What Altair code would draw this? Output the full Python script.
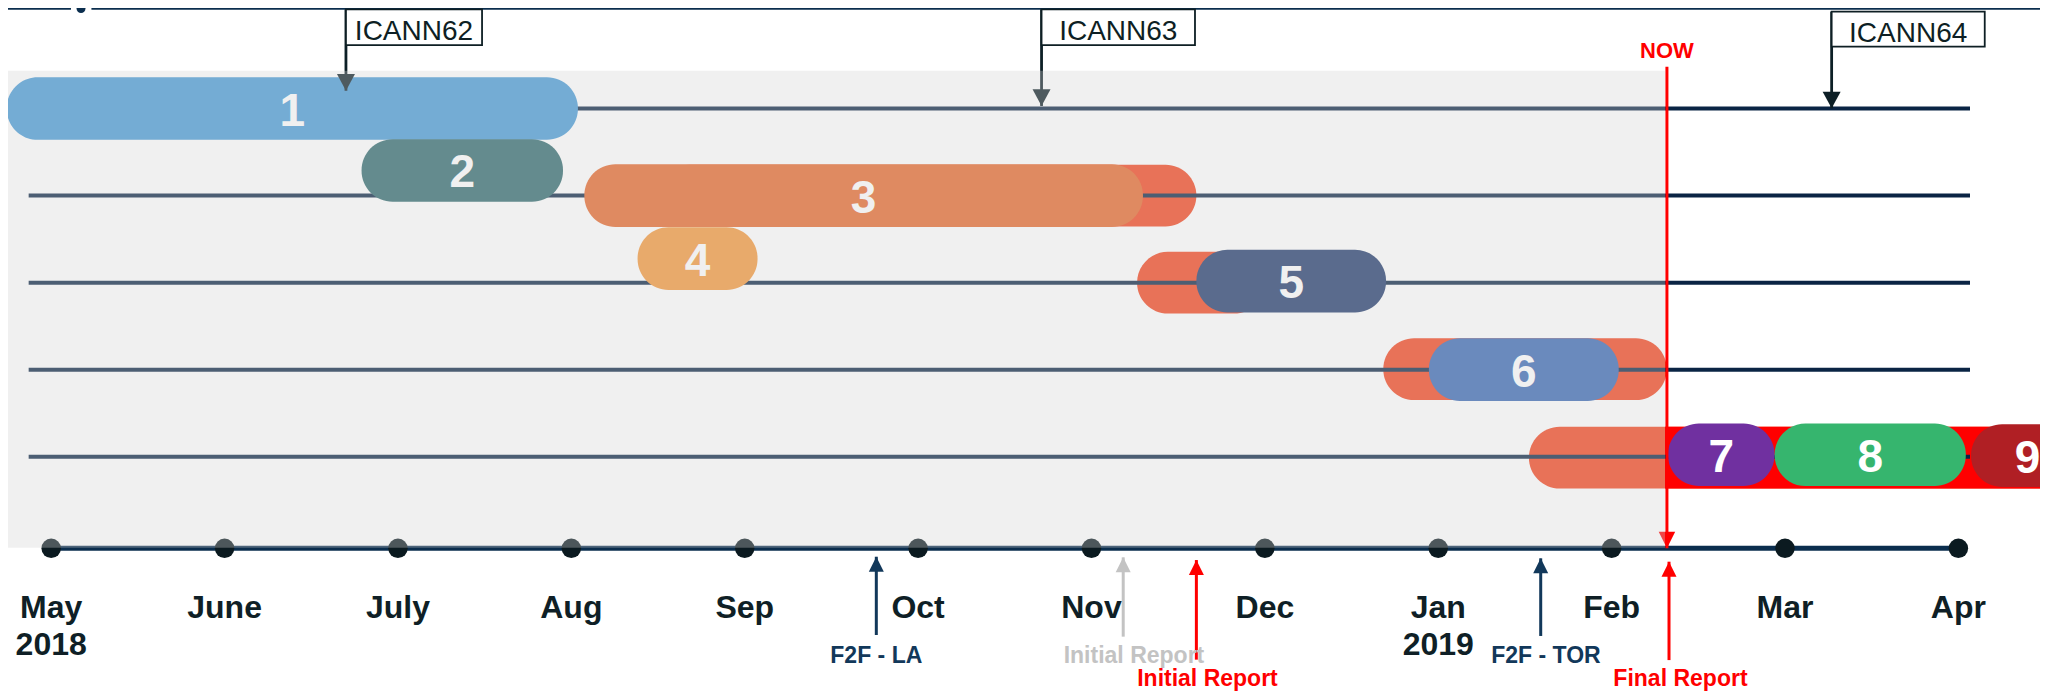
import altair as alt
import pandas as pd

# ---------------- data (x in months since May 2018, y in timeline rows) ----------------
months = list(range(12))
month_names = ["May\n2018", "June", "July", "Aug", "Sep", "Oct", "Nov", "Dec",
               "Jan\n2019", "Feb", "Mar", "Apr"]

bar_labels = ["1", "2", "3", "4", "5", "6", "7", "8", "9"]
bar_start = [-0.257, 1.790, 3.075, 3.382, 6.605, 7.946, 9.325, 9.940, 11.073]
bar_end = [3.038, 2.952, 6.297, 4.074, 7.699, 9.041, 9.940, 11.043, 11.725]
bar_row = [1.0, 1.712, 2.0, 2.724, 2.983, 4.0, 4.977, 4.977, 4.987]
bar_colors = ["#4599d5", "#2d686c", "#e66629", "#f49638", "#1e386b",
              "#3666b3", "#7030a0", "#36b56e", "#b01f24"]

ext_start = [3.5, 6.263, 7.683, 8.523]
ext_end = [6.605, 7.0, 9.318, 12.5]
ext_row = [2.0, 3.0, 3.994, 5.01]

late_start = [9.308]
late_end = [12.5]
late_row = [5.01]

row_ids = [1, 2, 3, 4, 5]
row_line_start = [-0.130, -0.130, -0.130, -0.130, -0.130]
row_line_end = [11.067, 11.067, 11.067, 11.067, 11.067]

icann_names = ["ICANN62", "ICANN63", "ICANN64"]
icann_month = [1.700, 5.712, 10.269]
icann_box_end = [2.485, 6.597, 11.152]
icann_box_top = [-0.139, -0.139, -0.112]
icann_box_bottom = [0.271, 0.271, 0.290]
icann_tip = [0.796, 0.971, 0.998]

axis_row = 6.051
label_row = 6.855

now_month = [9.319]
now_top = [0.520]
now_text_row = [0.4235]
shade_end = [9.308]
shade_start = [-0.257]
shade_top = [0.566]
shade_bottom = [6.044]

ann_text = ["F2F - LA", "Initial Report", "Initial Report", "F2F - TOR", "Final Report"]
ann_arrow_x = [4.759, 6.183, 6.605, 8.591, 9.331]
ann_tip = [6.148, 6.155, 6.186, 6.166, 6.205]
ann_tail = [7.047, 7.066, 7.330, 7.058, 7.335]
ann_text_x = [4.759, 6.245, 6.669, 8.621, 9.397]
ann_text_y = [7.365, 7.368, 7.627, 7.372, 7.627]
ann_color = ["#12385a", "#c3c3c3", "#ff0000", "#12385a", "#ff0000"]

top_seg_start = [-0.4, 0.232]
top_seg_end = [0.114, 12.5]
top_row = -0.1485
top_dot = [0.172]

# ---------------- scales ----------------
W, H = 2032, 683
PX_PER_MONTH = 173.38
MONTH0_PX = 43.2
PX_PER_ROW = 87.07
ROW0_PX = 13.43
X0 = -MONTH0_PX / PX_PER_MONTH
X1 = (W - MONTH0_PX) / PX_PER_MONTH
Y0 = -ROW0_PX / PX_PER_ROW
Y1 = (H - ROW0_PX) / PX_PER_ROW

XS = alt.Scale(domain=[X0, X1], nice=False, zero=False)
YS = alt.Scale(domain=[Y0, Y1], nice=False, zero=False, reverse=True)


def X(f):
    return alt.X(f, type="quantitative", scale=XS, axis=None)


def Y(f):
    return alt.Y(f, type="quantitative", scale=YS, axis=None)


FONT = "Liberation Sans"
HALF = 0.36

bars = pd.DataFrame(dict(label=bar_labels, start=bar_start, end=bar_end,
                         row=bar_row, color=bar_colors))
bars["top"] = bars["row"] - HALF
bars["bot"] = bars["row"] + HALF
bars["mid"] = (bars["start"] + bars["end"]) / 2

ext = pd.DataFrame(dict(start=ext_start, end=ext_end, row=ext_row))
ext["top"] = ext["row"] - 0.354
ext["bot"] = ext["row"] + 0.354

late = pd.DataFrame(dict(start=late_start, end=late_end, row=late_row))
late["top"] = late["row"] - 0.354
late["bot"] = late["row"] + 0.354

rows = pd.DataFrame(dict(row=row_ids, s=row_line_start, e=row_line_end))

icann = pd.DataFrame(dict(name=icann_names, m=icann_month, e=icann_box_end,
                          top=icann_box_top, bot=icann_box_bottom, tip=icann_tip))
icann["mid"] = (icann["m"] + icann["e"]) / 2

axis_df = pd.DataFrame(dict(s=[months[0]], e=[months[-1]], row=[axis_row]))
dots = pd.DataFrame(dict(m=months, row=[axis_row] * 12, name=month_names,
                         lrow=[label_row] * 12))

shade = pd.DataFrame(dict(s=shade_start, e=shade_end, top=shade_top, bot=shade_bottom))
now = pd.DataFrame(dict(m=now_month, top=now_top, tip=[axis_row], trow=now_text_row))

ann = pd.DataFrame(dict(text=ann_text, ax=ann_arrow_x, tip=ann_tip, tail=ann_tail,
                        tx=ann_text_x, ty=ann_text_y, color=ann_color))

top_line = pd.DataFrame(dict(s=top_seg_start, e=top_seg_end, row=[top_row] * 2))
top_pt = pd.DataFrame(dict(m=top_dot, row=[top_row]))

DOWN = "M-1,-1.85L1,-1.85L0,0Z"
DOWN_NOW = "M-1,-2L1,-2L0,0Z"
UP = "M-1,2L1,2L0,0Z"

# ---------------- layers ----------------
top_rule = alt.Chart(top_line).mark_rule(color="#0b2e4e", strokeWidth=2.7).encode(
    x=X("s"), x2="e", y=Y("row"))
top_circle = alt.Chart(top_pt).mark_circle(color="#0b2e4e", size=80, opacity=1).encode(
    x=X("m"), y=Y("row"))

ext_layer = alt.Chart(ext).mark_rect(cornerRadius=31, color="#f3421b").encode(
    x=X("start"), x2="end", y=Y("top"), y2="bot")
late_layer = alt.Chart(late).mark_rect(color="#ff0000").encode(
    x=X("start"), x2="end", y=Y("top"), y2="bot")

row_layer = alt.Chart(rows).mark_rule(color="#0a2444", strokeWidth=4).encode(
    x=X("s"), x2="e", y=Y("row"))

pill_layer = alt.Chart(bars).mark_rect(cornerRadius=31).encode(
    x=X("start"), x2="end", y=Y("top"), y2="bot",
    color=alt.Color("color:N", scale=None))
pill_text = alt.Chart(bars).mark_text(font=FONT, fontSize=46, fontWeight="bold",
                                      color="white", baseline="alphabetic", dy=17).encode(
    x=X("mid"), y=Y("row"), text="label:N")

icann_rule = alt.Chart(icann).mark_rule(color="#0d1f26", strokeWidth=2.8).encode(
    x=X("m"), y=Y("top"), y2="tip")
icann_head = alt.Chart(icann).mark_point(shape=DOWN, filled=True, size=324,
                                         color="#0d1f26", opacity=1).encode(
    x=X("m"), y=Y("tip"))

axis_rule = alt.Chart(axis_df).mark_rule(color="#0b2e4e", strokeWidth=5).encode(
    x=X("s"), x2="e", y=Y("row"))
axis_dots = alt.Chart(dots).mark_circle(color="#0b1a20", size=380, opacity=1).encode(
    x=X("m"), y=Y("row"))

now_rule = alt.Chart(now).mark_rule(color="#ff0000", strokeWidth=3).encode(
    x=X("m"), y=Y("top"), y2="tip")
now_head = alt.Chart(now).mark_point(shape=DOWN_NOW, filled=True, size=272,
                                     color="#ff0000", opacity=1).encode(
    x=X("m"), y=Y("tip"))

shade_layer = alt.Chart(shade).mark_rect(color="#d2d2d2", opacity=0.332).encode(
    x=X("s"), x2="e", y=Y("top"), y2="bot")

now_text = alt.Chart(now).mark_text(text="NOW", font=FONT, fontSize=22, fontWeight="bold",
                                    color="#ff0000", baseline="alphabetic").encode(
    x=X("m"), y=Y("trow"))

icann_box = alt.Chart(icann).mark_rect(fill="white", stroke="#0e1f24", strokeWidth=1.8).encode(
    x=X("m"), x2="e", y=Y("top"), y2="bot")
icann_text = alt.Chart(icann).mark_text(font=FONT, fontSize=28, color="#0e1f24",
                                        baseline="alphabetic", dy=-5).encode(
    x=X("mid"), y=Y("bot"), text="name:N")

ann_rule = alt.Chart(ann).mark_rule(strokeWidth=3).encode(
    x=X("ax"), y=Y("tip"), y2="tail", color=alt.Color("color:N", scale=None))
ann_head = alt.Chart(ann).mark_point(shape=UP, filled=True, size=225, opacity=1).encode(
    x=X("ax"), y=Y("tip"), color=alt.Color("color:N", scale=None))
ann_label = alt.Chart(ann).mark_text(font=FONT, fontSize=23, fontWeight="bold",
                                     baseline="alphabetic").encode(
    x=X("tx"), y=Y("ty"), text="text:N", color=alt.Color("color:N", scale=None))

month_text = alt.Chart(dots).mark_text(font=FONT, fontSize=32, fontWeight="bold",
                                       color="#0f1f26", baseline="alphabetic",
                                       lineBreak="\n", lineHeight=37).encode(
    x=X("m"), y=Y("lrow"), text="name:N")

chart = alt.layer(
    top_rule, top_circle,
    ext_layer, late_layer, row_layer, pill_layer, pill_text,
    icann_rule, icann_head, axis_rule, axis_dots,
    now_rule, now_head, shade_layer, now_text,
    icann_box, icann_text,
    ann_rule, ann_head, ann_label, month_text,
).properties(
    width=W, height=H, padding=0, autosize=alt.AutoSizeParams(type="none"),
    background="white"
).configure_view(stroke=None)

chart.save("out.html", embed_options={"renderer": "svg", "actions": False})
